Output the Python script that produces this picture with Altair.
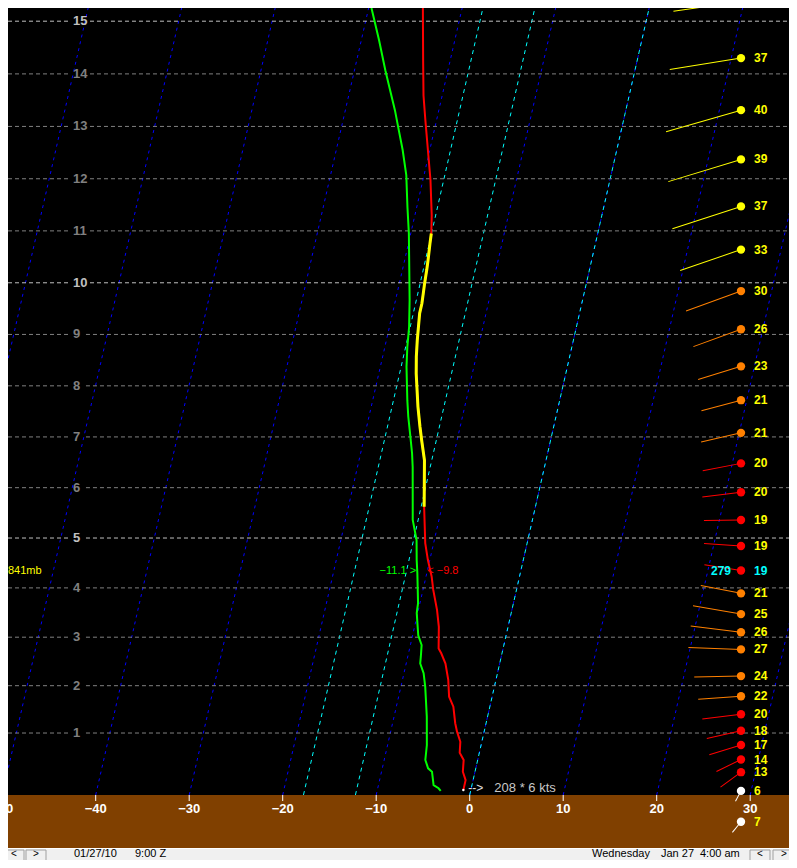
import altair as alt
import pandas as pd

# ---------------- data ----------------
# temperature profile (height in thousands of ft, temperature in deg C)
temp_h = [-0.30, -0.07, 0.14, 0.41, 0.57, 0.81, 1.03, 1.21, 1.56, 1.77, 2.12, 2.46, 2.67, 2.77,
          3.21, 3.55, 3.96, 4.23, 4.56, 4.90, 5.62, 6.54, 6.94, 7.20, 7.59, 7.85, 8.24, 8.57,
          8.89, 9.15, 9.41, 9.60, 9.80, 9.99, 10.25, 10.44, 10.76, 10.95, 11.30, 11.98, 12.55,
          13.12, 13.59, 14.26, 15.25]
temp_c = [-0.8, -0.8, -1.3, -1.5, -2.1, -2.3, -2.9, -3.3, -3.9, -4.6, -5.1, -5.8, -6.5, -6.9,
          -7.4, -8.0, -8.9, -9.4, -10.2, -10.9, -11.9, -13.0, -13.8, -14.3, -15.0, -15.4, -16.0, -16.4,
          -16.7, -16.9, -17.1, -17.1, -17.2, -17.3, -17.4, -17.5, -17.7, -17.8, -18.2, -19.2, -20.2,
          -21.2, -22.0, -22.9, -24.2]
# highlighted (yellow) part of the temperature profile
yellow_range = [5.62, 10.95]

# dew point profile
dew_h = [-0.32, -0.26, -0.19, 0.14, 0.22, 0.41, 0.74, 1.35, 1.98, 2.26, 2.46, 2.60, 2.84, 3.04,
         3.49, 3.69, 4.29, 4.56, 4.96, 5.36, 6.41, 6.68, 7.07, 7.40, 7.72, 8.37, 8.76, 9.15, 9.67,
         10.95, 11.46, 12.07, 12.55, 12.93, 13.31, 13.69, 14.07, 14.64, 15.25]
dew_c = [-3.2, -3.5, -4.1, -4.6, -5.1, -5.6, -5.8, -6.5, -7.4, -7.9, -8.5, -8.6, -8.8, -9.4,
         -10.1, -10.2, -11.0, -11.4, -11.9, -12.8, -14.1, -14.5, -15.2, -15.8, -16.3, -17.2, -17.6, -17.9, -18.5,
         -20.2, -21.0, -21.9, -22.9, -23.8, -24.7, -25.7, -26.7, -28.1, -29.7]

# winds
wind_h = [15.37, 14.30, 13.31, 12.37, 11.47, 10.64, 9.84, 9.10, 8.38, 7.72, 7.08, 6.48, 5.91, 5.36,
          4.84, 4.35, 3.89, 3.47, 3.10, 2.75, 2.20, 1.78, 1.40, 1.05, 0.74, 0.42, 0.13, -0.32, -1.00]
wind_kt = [35, 37, 40, 39, 37, 33, 30, 26, 23, 21, 21, 20, 20, 19,
           19, 19, 21, 25, 26, 27, 24, 22, 20, 18, 17, 14, 13, 6, 7]
wind_dir = [262, 261, 254, 253, 252, 251, 250, 250, 253, 255, 257, 259, 263, 269,
            274, 279, 281, 280, 277, 272, 269, 266, 263, 257, 253, 244, 234, 208, 219]

# cursor level readout
cursor_p = [841]
cursor_h = [4.35]
cursor_t = [-9.8]
cursor_td = [-11.1]
cursor_dir = [279]

surface_dir = [208]
surface_kt = [6]

height_ticks = list(range(1, 16))
temp_ticks = [-50, -40, -30, -20, -10, 0, 10, 20, 30]
isotherms_c = [-60, -50, -40, -30, -20, -10, 0, 10, 20, 30]
isotherms_f = [0, 10, 32]

status_left = ["01/27/10", "9:00 Z"]
status_right = ["Wednesday", "Jan 27", "4:00 am"]

# ---------------- geometry ----------------
W, H = 781, 787
XDOM = [-49.38, 34.15]
YDOM = [-0.413, 15.25]
EXP = 1.047
SKEW = 1.0825
TB = 0.3965
BARB_PX = 733
FONT = "Liberation Sans"

xscale = alt.Scale(domain=XDOM, nice=False, zero=False)
yscale = alt.Scale(type="pow", exponent=EXP, domain=YDOM, nice=False, zero=False)


def tpow(f):
    return f"(datum.{f} < 0 ? -pow(-datum.{f}, {EXP}) : pow(datum.{f}, {EXP}))"


def skew(tf, hf):
    return f"datum.{tf} + {SKEW} * ({tpow(hf)} + {TB})"


def X(f):
    return alt.X(f"{f}:Q", scale=xscale, axis=None)


def Y(f):
    return alt.Y(f"{f}:Q", scale=yscale, axis=None)


# ---------------- grid ----------------
grid_base = alt.Chart(pd.DataFrame({"h": height_ticks})).transform_calculate(
    col="datum.h % 5 == 0 ? '#c0c0c0' : '#808080'",
    xa=str(XDOM[0]), xb="-42.96",
    xc="datum.h < 10 ? -41.04 : -40.61", xd=str(XDOM[1]),
)
grid1 = grid_base.mark_rule(strokeDash=[4, 3], strokeWidth=1).encode(
    x=X("xa"), x2="xb:Q", y=Y("h"), color=alt.Color("col:N", scale=None))
grid2 = grid_base.mark_rule(strokeDash=[4, 3], strokeWidth=1).encode(
    x=X("xc"), x2="xd:Q", y=Y("h"), color=alt.Color("col:N", scale=None))
ylabels = grid_base.mark_text(align="left", baseline="middle", font=FONT, fontSize=13,
                              fontWeight="bold").encode(
    x=alt.value(65), y=Y("h"), text="h:Q", color=alt.Color("col:N", scale=None))

# ---------------- temperature axis (in the brown band) ----------------
tick_df = pd.DataFrame({"t": temp_ticks})
xticks = alt.Chart(tick_df).mark_rule(color="#ffffff", strokeWidth=1).encode(
    x=X("t"), y=alt.value(787), y2=alt.value(793))
xlabels = alt.Chart(tick_df).mark_text(align="center", baseline="middle", font=FONT,
                                       fontSize=13, fontWeight="bold", color="#ffffff").encode(
    x=X("t"), y=alt.value(801), text="t:Q")

# ---------------- isotherms ----------------
iso_df = pd.DataFrame([{"t": t, "h": h} for t in isotherms_c for h in YDOM])
iso = alt.Chart(iso_df).transform_calculate(xs=skew("t", "h")).mark_line(
    color="#0000ff", strokeWidth=1, strokeDash=[3, 4]).encode(
    x=X("xs"), y=Y("h"), detail="t:Q", order="h:Q")

isof_df = pd.DataFrame([{"f": f, "h": h} for f in isotherms_f for h in YDOM])
isof = alt.Chart(isof_df).transform_calculate(t="(datum.f - 32) * 5 / 9").transform_calculate(
    xs=skew("t", "h")).mark_line(color="#00ffff", strokeWidth=1, strokeDash=[4, 4]).encode(
    x=X("xs"), y=Y("h"), detail="f:Q", order="h:Q")

# ---------------- profiles ----------------
temp_df = pd.DataFrame({"h": temp_h, "t": temp_c})
dew_df = pd.DataFrame({"h": dew_h, "t": dew_c})

red = alt.Chart(temp_df).transform_calculate(xs=skew("t", "h")).mark_line(
    color="#ff0000", strokeWidth=2).encode(x=X("xs"), y=Y("h"), order="h:Q")
yellow = alt.Chart(temp_df).transform_filter(
    f"datum.h >= {yellow_range[0]} && datum.h <= {yellow_range[1]}").transform_calculate(
    xs=skew("t", "h")).mark_line(color="#ffff00", strokeWidth=3).encode(
    x=X("xs"), y=Y("h"), order="h:Q")
green = alt.Chart(dew_df).transform_calculate(xs=skew("t", "h")).mark_line(
    color="#00ff00", strokeWidth=2).encode(x=X("xs"), y=Y("h"), order="h:Q")

# ---------------- cursor readout ----------------
cur_df = pd.DataFrame({"p": cursor_p, "h": cursor_h, "t": cursor_t, "td": cursor_td,
                       "wdir": cursor_dir})
cur = alt.Chart(cur_df)
lab_p = cur.transform_calculate(lab="datum.p + 'mb'").mark_text(
    align="left", baseline="middle", font=FONT, fontSize=11, color="#ffff00").encode(
    x=alt.value(0), y=Y("h"), text="lab:N")
lab_td = cur.transform_calculate(xs=skew("td", "h"), lab="format(datum.td, '.1f') + ' >'").mark_text(
    align="right", baseline="middle", font=FONT, fontSize=11, color="#00ff00", dx=-1).encode(
    x=X("xs"), y=Y("h"), text="lab:N")
lab_t = cur.transform_calculate(xs=skew("t", "h"), lab="'<  ' + format(datum.t, '.1f')").mark_text(
    align="left", baseline="middle", font=FONT, fontSize=11, color="#ff0000", dx=-2).encode(
    x=X("xs"), y=Y("h"), text="lab:N")
lab_dir = cur.mark_text(align="right", baseline="middle", font=FONT, fontSize=12,
                        fontWeight="bold", color="#00ffff", dx=-10).encode(
    x=alt.value(BARB_PX), y=Y("h"), text="wdir:Q")

# ---------------- winds ----------------
wind_df = pd.DataFrame({"h": wind_h, "kt": wind_kt, "dir": wind_dir})
wind = alt.Chart(wind_df).transform_calculate(
    col="datum.kt < 10 ? '#ffffff' : datum.kt <= 20 ? '#ff0000' : datum.kt <= 30 ? '#ff8000' : '#ffff00'",
    tcol=f"datum.h == {cursor_h[0]} ? '#00ffff' : '#ffff00'",
    sz="15.2 * datum.kt * datum.kt",
)
barb = wind.mark_point(shape="M0,0L0,-1", filled=False, strokeWidth=1, opacity=1).encode(
    x=alt.value(BARB_PX), y=Y("h"), size=alt.Size("sz:Q", scale=None),
    angle=alt.Angle("dir:Q", scale=None), color=alt.Color("col:N", scale=None))
dots = wind.mark_circle(size=70, opacity=1).encode(
    x=alt.value(BARB_PX), y=Y("h"), color=alt.Color("col:N", scale=None))
spd = wind.mark_text(align="left", baseline="middle", font=FONT, fontSize=12,
                     fontWeight="bold", dx=13).encode(
    x=alt.value(BARB_PX), y=Y("h"), text="kt:Q", color=alt.Color("tcol:N", scale=None))

# ---------------- surface wind readout ----------------
sfc_df = pd.DataFrame({"h": [temp_h[0]], "t": [temp_c[0]], "dir": surface_dir, "kt": surface_kt})
sfc = alt.Chart(sfc_df).transform_calculate(
    xs=skew("t", "h"), lab="datum.dir + ' * ' + datum.kt + ' kts'")
sfc_arrow = sfc.mark_text(text="-->", align="left", baseline="middle", font=FONT, fontSize=12,
                          color="#e0e0e0", dx=5, dy=-2).encode(x=X("xs"), y=Y("h"))
sfc_txt = sfc.mark_text(align="left", baseline="middle", font=FONT, fontSize=13,
                        color="#c8c8c8", dx=31, dy=-2).encode(x=X("xs"), y=Y("h"), text="lab:N")
sfc_dot = sfc.mark_point(filled=True, size=6, color="#ffffff", opacity=1).encode(x=X("xs"), y=Y("h"))

# ---------------- status bar ----------------
one = pd.DataFrame({"k": [0]})


def fixed_rect(x, x2, y, y2, fill, stroke=""):
    kw = {"fill": fill}
    if stroke:
        kw["stroke"] = stroke
        kw["strokeWidth"] = 1
    return alt.Chart(one).mark_rect(**kw).encode(
        x=alt.value(x), x2=alt.value(x2), y=alt.value(y), y2=alt.value(y2))


def fixed_text(txt, x, y, align="left", size=11):
    return alt.Chart(one).mark_text(text=txt, align=align, baseline="middle", font=FONT,
                                    fontSize=size, color="#000000").encode(
        x=alt.value(x), y=alt.value(y))


bar = [
    fixed_rect(0, W, 840, 853, "#f0f0f0"),
    alt.Chart(one).mark_rule(color="#ffffff", strokeWidth=1).encode(
        x=alt.value(0), x2=alt.value(W), y=alt.value(840.5)),
    fixed_rect(-4, 16, 842, 860, "#f0f0f0", "#a0a0a0"),
    fixed_rect(18, 38, 842, 860, "#f0f0f0", "#a0a0a0"),
    fixed_rect(742, 762, 842, 860, "#f0f0f0", "#a0a0a0"),
    fixed_rect(765, 787, 842, 860, "#f0f0f0", "#a0a0a0"),
    fixed_text("<", 6, 846, "center", 10),
    fixed_text(">", 28, 846, "center", 10),
    fixed_text("<", 752, 846, "center", 10),
    fixed_text(">", 776, 846, "center", 10),
    fixed_text(status_left[0], 66, 846),
    fixed_text(status_left[1], 127, 846),
    fixed_text(status_right[0], 584, 846),
    fixed_text(status_right[1], 653, 846),
    fixed_text(status_right[2], 692, 846),
]

chart = alt.layer(
    iso, isof, grid1, grid2, ylabels, xticks, xlabels, green, red, yellow,
    lab_p, lab_td, lab_t, barb, dots, spd, lab_dir,
    sfc_dot, sfc_arrow, sfc_txt, *bar
).properties(
    width=W, height=H,
    autosize=alt.AutoSizeParams(type="none"),
    padding={"left": 0, "top": 0, "right": 0, "bottom": 65},
    background="#804000",
).configure_view(fill="#000000", stroke=None, strokeWidth=0)

chart.save("out.html", embed_options={"renderer": "svg", "actions": False})
